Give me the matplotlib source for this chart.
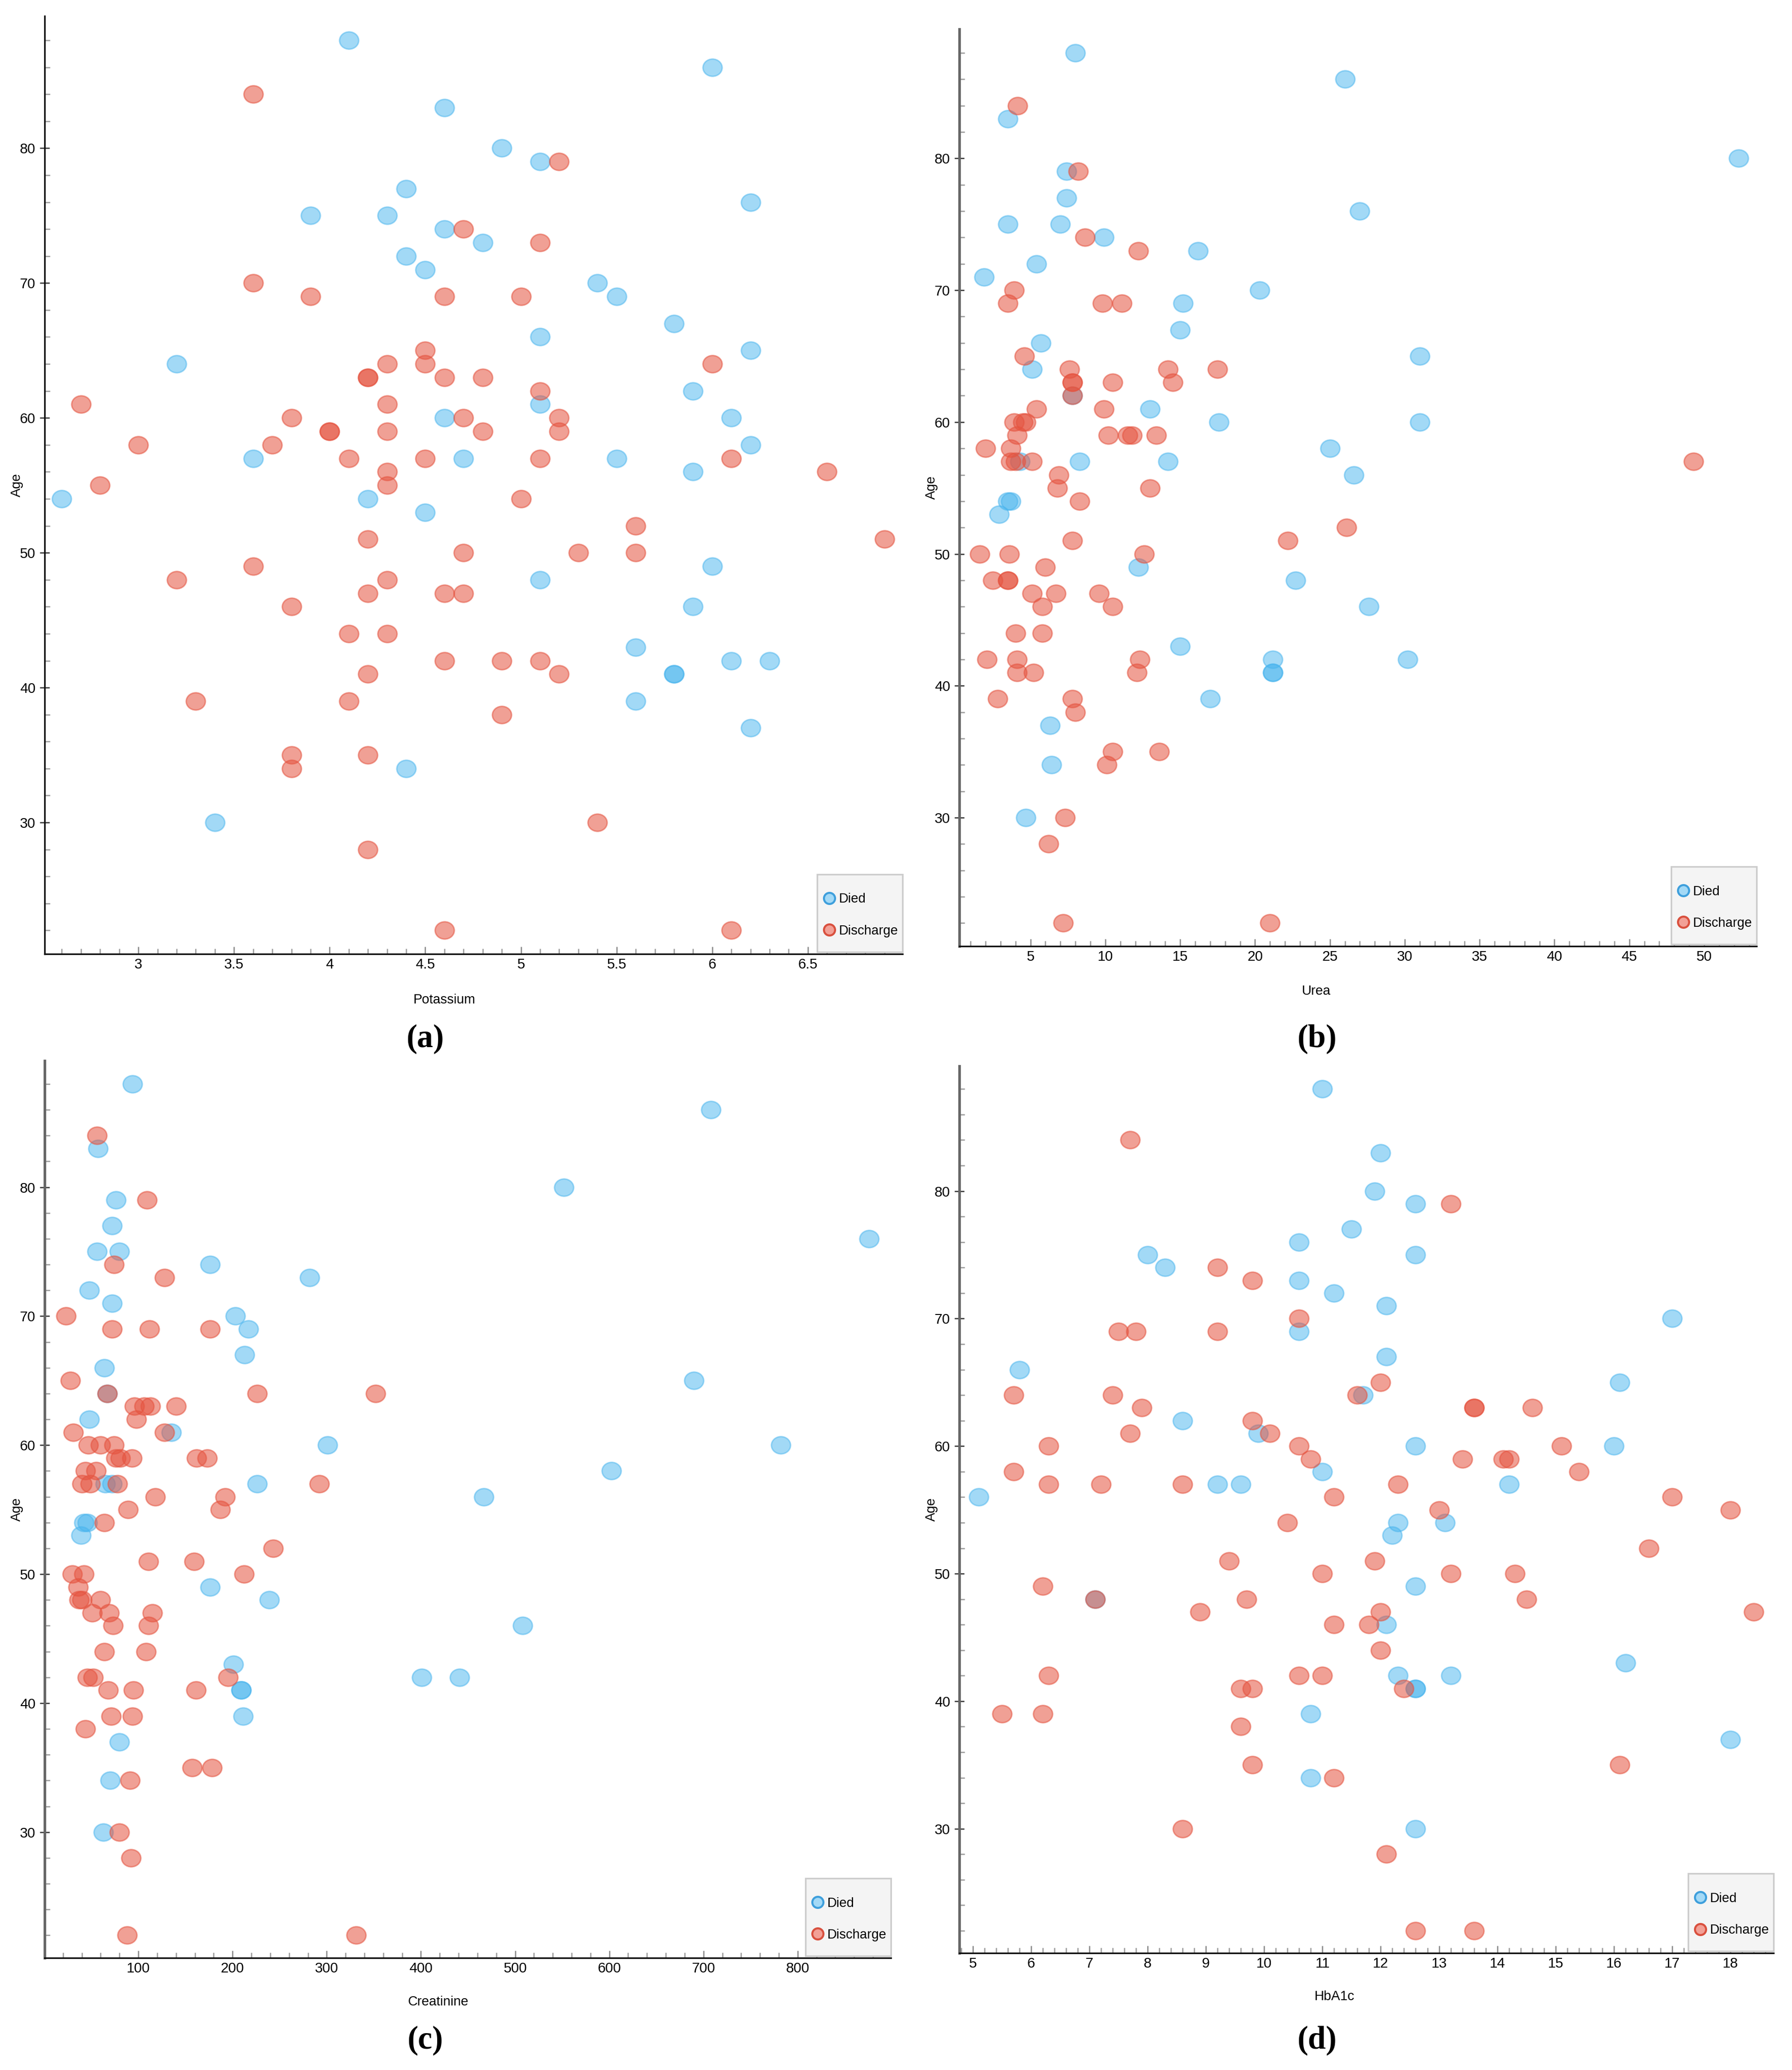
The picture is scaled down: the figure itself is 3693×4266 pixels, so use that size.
import numpy as np
import matplotlib
matplotlib.use('Agg')
import matplotlib.pyplot as plt
from matplotlib.path import Path
from matplotlib.transforms import Affine2D
from matplotlib.lines import Line2D
from matplotlib.patches import Rectangle
from matplotlib.ticker import MultipleLocator, FuncFormatter

# ---- data: Age vs lab values, split by outcome ----
age_died = [88, 86, 83, 80, 79, 77, 76, 75, 75, 74, 73, 72, 71, 70, 69, 67, 66, 65, 64, 62,
            61, 60, 60, 58, 57, 57, 57, 56, 54, 54, 53, 49, 48, 46, 43, 42, 42, 41, 41, 39,
            37, 34, 30]
potassium_died = [4.1, 6.0, 4.6, 4.9, 5.1, 4.4, 6.2, 3.9, 4.3, 4.6, 4.8, 4.4, 4.5, 5.4, 5.5, 5.8,
                  5.1, 6.2, 3.2, 5.9, 5.1, 4.6, 6.1, 6.2, 3.6, 4.7, 5.5, 5.9, 2.6, 4.2, 4.5, 6.0,
                  5.1, 5.9, 5.6, 6.1, 6.3, 5.8, 5.8, 5.6, 6.2, 4.4, 3.4]
urea_died = [8.0, 26.0, 3.5, 52.3, 7.4, 7.4, 27.0, 3.5, 7.0, 9.9, 16.2, 5.4, 1.9, 20.3, 15.2, 15.0,
             5.7, 31.0, 5.1, 7.8, 13.0, 17.6, 31.0, 25.0, 8.3, 4.3, 14.2, 26.6, 3.5, 3.7, 2.9, 12.2,
             22.7, 27.6, 15.0, 21.2, 30.2, 21.2, 21.2, 17.0, 6.3, 6.4, 4.7]
creat_died = [94, 708, 57, 552, 76, 72, 876, 56, 80, 176, 282, 48, 72, 203, 217, 213, 64, 690, 67,
              48, 135, 301, 782, 602, 226, 65, 72, 467, 42, 46, 39, 176, 239, 508, 201, 401, 441,
              209, 209, 211, 80, 70, 63]
creat_died_age = [88, 86, 83, 80, 79, 77, 76, 75, 75, 74, 73, 72, 71, 70, 69, 67, 66, 65, 64, 62,
                  61, 60, 60, 58, 57, 57, 57, 56, 54, 54, 53, 49, 48, 46, 43, 42, 42, 41, 41, 39,
                  37, 34, 30]
hba1c_died = [11.0, 12.0, 11.9, 12.6, 11.5, 10.6, 8.0, 12.6, 8.3, 10.6, 11.2, 12.1, 17.0, 10.6,
              12.1, 5.8, 16.1, 11.7, 8.6, 9.9, 12.6, 16.0, 11.0, 9.2, 9.6, 14.2, 5.1, 12.3, 13.1,
              12.2, 12.6, 7.1, 12.1, 16.2, 12.3, 13.2, 12.6, 12.6, 10.8, 18.0, 10.8, 12.6]
hba1c_died_age = [88, 83, 80, 79, 77, 76, 75, 75, 74, 73, 72, 71, 70, 69, 67, 66, 65, 64, 62, 61,
                  60, 60, 58, 57, 57, 57, 56, 54, 54, 53, 49, 48, 46, 43, 42, 42, 41, 41, 39, 37,
                  34, 30]

potassium_dis = [3.6, 5.2, 4.7, 5.1, 3.6, 3.9, 4.6, 5.0, 4.5, 4.3, 4.5, 6.0, 4.2, 4.2, 4.6, 4.8,
                 5.1, 2.7, 4.3, 3.8, 4.7, 5.2, 4.0, 4.0, 4.3, 4.8, 5.2, 3.0, 3.7, 4.1, 4.5, 5.1,
                 6.1, 4.3, 6.6, 2.8, 4.3, 5.0, 5.6, 4.2, 6.9, 4.7, 5.3, 5.6, 3.6, 3.2, 4.3, 4.2,
                 4.6, 4.7, 3.8, 4.1, 4.3, 4.6, 4.9, 5.1, 4.2, 5.2, 3.3, 4.1, 4.9, 3.8, 4.2, 3.8,
                 5.4, 4.2, 4.6, 6.1]
potassium_dis_age = [84, 79, 74, 73, 70, 69, 69, 69, 65, 64, 64, 64, 63, 63, 63, 63, 62, 61, 61,
                     60, 60, 60, 59, 59, 59, 59, 59, 58, 58, 57, 57, 57, 57, 56, 56, 55, 55, 54,
                     52, 51, 51, 50, 50, 50, 49, 48, 48, 47, 47, 47, 46, 44, 44, 42, 42, 42, 41,
                     41, 39, 39, 38, 35, 35, 34, 30, 28, 22, 22]
urea_dis = [4.15, 8.2, 8.65, 12.2, 3.9, 3.5, 9.8, 11.1, 4.6, 7.6, 14.2, 17.5, 7.8, 7.8, 10.5, 14.5,
            7.8, 5.4, 9.9, 3.9, 4.5, 4.7, 4.1, 10.2, 11.5, 11.8, 13.4, 2.0, 3.7, 3.7, 4.0, 5.1,
            49.3, 6.9, 6.8, 13.0, 8.3, 26.1, 7.8, 22.2, 1.6, 3.6, 12.6, 6.0, 2.5, 3.5, 3.5, 5.1,
            6.7, 9.6, 5.8, 10.5, 4.0, 5.8, 2.1, 4.1, 12.3, 4.1, 5.2, 12.1, 2.8, 7.8, 8.0, 10.5,
            13.6, 10.1, 7.3, 6.2, 7.2, 21.0]
urea_dis_age = [84, 79, 74, 73, 70, 69, 69, 69, 65, 64, 64, 64, 63, 63, 63, 63, 62, 61, 61, 60, 60,
                60, 59, 59, 59, 59, 59, 58, 58, 57, 57, 57, 57, 56, 55, 55, 54, 52, 51, 51, 50, 50,
                50, 49, 48, 48, 48, 47, 47, 47, 46, 46, 44, 44, 42, 42, 42, 41, 41, 41, 39, 39, 38,
                35, 35, 34, 30, 28, 22, 22]
creat_dis = [56, 109, 74, 128, 23, 72, 112, 176, 28, 67, 226, 352, 96, 106, 113, 140, 98, 31, 128,
             47, 60, 74, 76, 81, 93, 162, 173, 44, 55, 40, 49, 78, 292, 118, 192, 89, 187, 64, 243,
             111, 159, 30, 42, 212, 36, 37, 40, 60, 51, 69, 115, 73, 111, 64, 108, 46, 52, 195,
             68, 95, 161, 71, 94, 44, 157, 178, 91, 80, 92, 88, 331]
creat_dis_age = [84, 79, 74, 73, 70, 69, 69, 69, 65, 64, 64, 64, 63, 63, 63, 63, 62, 61, 61, 60,
                 60, 60, 59, 59, 59, 59, 59, 58, 58, 57, 57, 57, 57, 56, 56, 55, 55, 54, 52, 51,
                 51, 50, 50, 50, 49, 48, 48, 48, 47, 47, 47, 46, 46, 44, 44, 42, 42, 42, 41, 41,
                 41, 39, 39, 38, 35, 35, 34, 30, 28, 22, 22]
hba1c_dis = [7.7, 13.2, 9.2, 9.8, 10.6, 7.5, 7.8, 9.2, 12.0, 5.7, 7.4, 11.6, 7.9, 13.6, 13.6, 14.6,
             9.8, 7.7, 10.1, 6.3, 10.6, 15.1, 10.8, 13.4, 14.1, 14.2, 5.7, 15.4, 6.3, 7.2, 8.6,
             12.3, 11.2, 17.0, 13.0, 18.0, 10.4, 16.6, 9.4, 11.9, 11.0, 13.2, 14.3, 6.2, 7.1, 9.7,
             14.5, 8.9, 12.0, 18.4, 11.2, 11.8, 12.0, 6.3, 10.6, 11.0, 9.6, 9.8, 12.4, 5.5, 6.2,
             9.6, 9.8, 16.1, 11.2, 8.6, 12.1, 12.6, 13.6]
hba1c_dis_age = [84, 79, 74, 73, 70, 69, 69, 69, 65, 64, 64, 64, 63, 63, 63, 63, 62, 61, 61, 60,
                 60, 60, 59, 59, 59, 59, 58, 58, 57, 57, 57, 57, 56, 56, 55, 55, 54, 52, 51, 51,
                 50, 50, 50, 49, 48, 48, 48, 47, 47, 47, 46, 46, 44, 42, 42, 42, 41, 41, 41, 39,
                 39, 38, 35, 35, 34, 30, 28, 22, 22]

panels = [
    dict(tag='(a)', xlabel='Potassium', xd=potassium_died, yd=age_died,
         xr=potassium_dis, yr=potassium_dis_age, xlim=(2.51, 6.995), major=0.5, minor=0.1),
    dict(tag='(b)', xlabel='Urea', xd=urea_died, yd=age_died,
         xr=urea_dis, yr=urea_dis_age, xlim=(0.25, 53.5), major=5, minor=1),
    dict(tag='(c)', xlabel='Creatinine', xd=creat_died, yd=creat_died_age,
         xr=creat_dis, yr=creat_dis_age, xlim=(0.5, 899), major=100, minor=20),
    dict(tag='(d)', xlabel='HbA1c', xd=hba1c_died, yd=hba1c_died_age,
         xr=hba1c_dis, yr=hba1c_dis_age, xlim=(4.77, 18.74), major=1, minor=0.2),
]

W, H = 3693, 4266
# axes boxes in pixels: left, top, right, bottom
boxes = [(92, 33, 1860, 1966), (1977, 60, 3620, 1950),
         (92, 2186, 1836, 4035), (1977, 2197, 3655, 4025)]
xlabel_pos = [0.466, 0.448, 0.465, 0.461]
tag_pos = [(876, 2141), (2714, 2141), (876, 4205), (2714, 4205)]
leg_w, leg_h = 176, 160   # legend box size, px

sans = ['Liberation Sans', 'DejaVu Sans']
ell = Path.unit_circle().transformed(Affine2D().scale(1.0, 0.9))

blue, red = '#47B4EE', '#E5533F'

fig = plt.figure(figsize=(W / 300, H / 300), dpi=300)
fig.patch.set_facecolor('white')

for i, p in enumerate(panels):
    l, t, r, b = boxes[i]
    aw, ah = r - l, b - t
    ax = fig.add_axes([l / W, 1 - b / H, aw / W, ah / H])
    ax.scatter(p['xd'], p['yd'], s=90, marker=ell, color=blue, edgecolors=blue,
               linewidths=0.7, alpha=0.5, zorder=3)
    ax.scatter(p['xr'], p['yr'], s=90, marker=ell, color=red, edgecolors=red,
               linewidths=0.7, alpha=0.55, zorder=3)
    ax.set_xlim(*p['xlim'])
    ax.set_ylim(20.25, 89.8)

    ax.xaxis.set_major_locator(MultipleLocator(p['major']))
    ax.xaxis.set_minor_locator(MultipleLocator(p['minor']))
    ax.yaxis.set_major_locator(MultipleLocator(10))
    ax.yaxis.set_minor_locator(MultipleLocator(2))
    ax.xaxis.set_major_formatter(FuncFormatter(lambda v, pos: '%g' % v))
    ax.yaxis.set_major_formatter(FuncFormatter(lambda v, pos: '%g' % v))
    ax.tick_params(axis='both', which='major', labelsize=7, pad=2, width=0.6)
    ax.tick_params(axis='y', which='major', direction='inout', length=5, color='#333333')
    ax.tick_params(axis='x', which='major', direction='in', length=3.5, color='#888888')
    ax.tick_params(axis='both', which='minor', direction='in', length=2.6,
                   width=0.6, color='#9a9a9a')
    for lab in ax.get_xticklabels() + ax.get_yticklabels():
        lab.set_family(sans)

    for s in ['top', 'right']:
        ax.spines[s].set_visible(False)
    ax.spines['bottom'].set_color('#111111')
    ax.spines['bottom'].set_linewidth(0.8)
    ax.spines['left'].set_color('#111111' if i == 0 else '#666666')
    ax.spines['left'].set_linewidth(0.8 if i == 0 else 1.3)

    ax.set_xlabel(p['xlabel'], fontsize=6.6, family=sans, va='center')
    ax.xaxis.set_label_coords(xlabel_pos[i], -0.049)
    ax.set_ylabel('Age', fontsize=6.6, family=sans, va='center')
    ax.yaxis.set_label_coords(-57 / aw, 0.5)

    # legend: grey box in the lower right corner, entries drawn without a frame
    bx, bw, bh = 1 - leg_w / aw, leg_w / aw, leg_h / ah
    ax.add_patch(Rectangle((bx, 0.002), bw, bh, transform=ax.transAxes,
                           facecolor='#F4F4F4', edgecolor='#CCCCCC', linewidth=0.8,
                           zorder=4, clip_on=False))
    handles = [
        Line2D([], [], ls='none', marker='o', markersize=5.5, markerfacecolor='#A3D9F6',
               markeredgecolor='#3E9FDC', markeredgewidth=1.0, label='Died'),
        Line2D([], [], ls='none', marker='o', markersize=5.5, markerfacecolor='#F2A096',
               markeredgecolor='#D9503E', markeredgewidth=1.0, label='Discharge'),
    ]
    leg = ax.legend(handles=handles, loc='center left',
                    bbox_to_anchor=(bx + 14 / aw, 0.002 + bh / 2 - 4 / ah),
                    borderaxespad=0, borderpad=0, frameon=False,
                    prop={'family': sans, 'size': 6.5},
                    handlelength=0.8, handletextpad=0.35, labelspacing=1.45)
    leg.set_zorder(5)

    fig.text(tag_pos[i][0] / W, 1 - tag_pos[i][1] / H, p['tag'], ha='center', va='center',
             fontsize=16, fontweight='bold', family='Liberation Serif')

fig.savefig('out.png', dpi=300)
